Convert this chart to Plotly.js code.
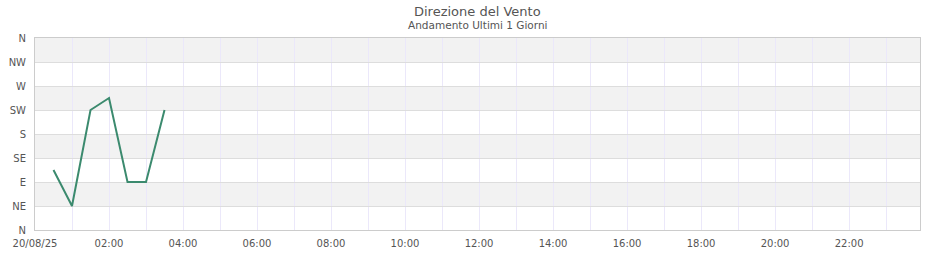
<!DOCTYPE html>
<html>
<head>
<meta charset="utf-8">
<script src="https://cdn.plot.ly/plotly-3.0.1.min.js"></script>
<style>html,body{margin:0;padding:0;background:#fff;}#chart{width:940px;height:260px;}</style>
</head>
<body>
<div id="chart"></div>
<script>
// Wind direction readings (degrees) over the last day
const times = ["2025-08-20 00:30", "2025-08-20 01:00", "2025-08-20 01:30", "2025-08-20 02:00",
               "2025-08-20 02:30", "2025-08-20 03:00", "2025-08-20 03:30"];
const directions = [112.5, 45, 225, 247.5, 90, 90, 225];

// Compass tick labels on the y axis
const compassValues = [0, 45, 90, 135, 180, 225, 270, 315, 360];
const compassLabels = ["N", "NE", "E", "SE", "S", "SW", "W", "NW", "N"];

// Time axis labels
const timeTicks = ["2025-08-20 00:00", "2025-08-20 02:00", "2025-08-20 04:00", "2025-08-20 06:00",
                   "2025-08-20 08:00", "2025-08-20 10:00", "2025-08-20 12:00", "2025-08-20 14:00",
                   "2025-08-20 16:00", "2025-08-20 18:00", "2025-08-20 20:00", "2025-08-20 22:00"];
const timeLabels = ["20/08/25", "02:00", "04:00", "06:00", "08:00", "10:00", "12:00",
                    "14:00", "16:00", "18:00", "20:00", "22:00"];
const timeRange = ["2025-08-20 00:00", "2025-08-20 23:55"];

// Alternating shaded bands between compass points
const bands = [];
for (let i = 0; i < compassValues.length - 1; i++) {
  if ((compassValues.length - 2 - i) % 2 === 0) {
    bands.push({
      type: "rect", xref: "paper", yref: "y", layer: "below",
      x0: 0, x1: 1, y0: compassValues[i], y1: compassValues[i + 1],
      fillcolor: "#f2f2f2", line: {width: 0}
    });
  }
}

const font = "DejaVu Sans, Verdana, sans-serif";

Plotly.newPlot("chart", [{
  x: times, y: directions, type: "scatter", mode: "lines",
  line: {color: "#3b8a6e", width: 2},
  hoverinfo: "skip"
}], {
  width: 940, height: 260,
  margin: {l: 35, r: 20, t: 38, b: 30},
  paper_bgcolor: "#fff", plot_bgcolor: "#fff",
  showlegend: false,
  font: {family: font, size: 10, color: "#555"},
  annotations: [
    {text: "Direzione del Vento", xref: "paper", yref: "paper", x: 0.5, y: 1, yshift: 27,
     xanchor: "center", yanchor: "middle", showarrow: false,
     font: {family: font, size: 13, color: "#555"}},
    {text: "Andamento Ultimi 1 Giorni", xref: "paper", yref: "paper", x: 0.5, y: 1, yshift: 13,
     xanchor: "center", yanchor: "middle", showarrow: false,
     font: {family: font, size: 10.5, color: "#555"}}
  ],
  shapes: bands,
  xaxis: {
    type: "date", range: timeRange,
    tickvals: timeTicks, ticktext: timeLabels, ticks: "",
    showgrid: true, gridcolor: "#ebe8fa", gridwidth: 1,
    minor: {dtick: 3600000, showgrid: true, gridcolor: "#ebe8fa", gridwidth: 1},
    showline: true, linecolor: "#cccccc", linewidth: 1, mirror: true,
    zeroline: false, tickfont: {size: 10, color: "#555"}, ticklabelstandoff: 4
  },
  yaxis: {
    range: [0, 360], tickvals: compassValues, ticktext: compassLabels, ticks: "",
    showgrid: true, gridcolor: "#dddddd", gridwidth: 1,
    showline: true, linecolor: "#cccccc", linewidth: 1, mirror: true,
    zeroline: false, tickfont: {size: 10, color: "#555"}, ticklabelstandoff: 6
  }
}, {displayModeBar: false, staticPlot: true});
</script>
</body>
</html>
